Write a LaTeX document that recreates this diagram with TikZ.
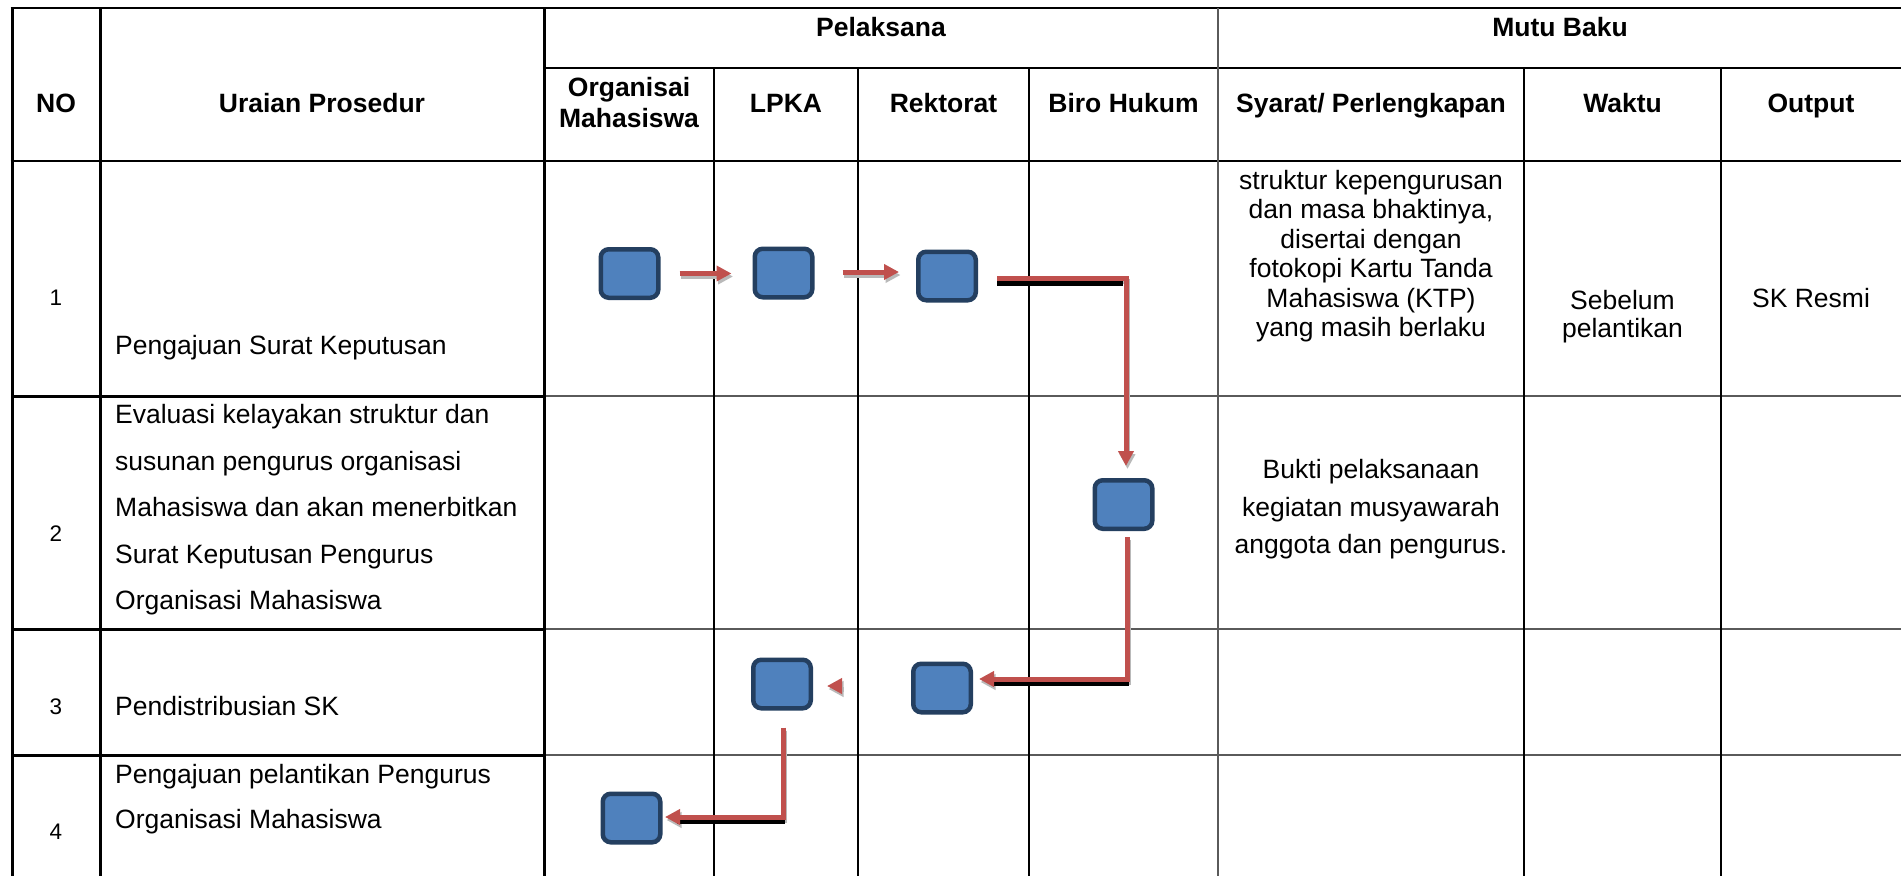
\documentclass[tikz,border=0pt]{standalone}
\usepackage{fontspec}
\setmainfont{Liberation Sans}
\usetikzlibrary{arrows.meta,calc}
\definecolor{boxfill}{HTML}{4F81BD}
\definecolor{boxline}{HTML}{243F60}
\definecolor{arrowred}{HTML}{C0504D}
\definecolor{gridgray}{HTML}{5A5A5A}
\begin{document}
\begin{tikzpicture}[x=1pt,y=-1pt,
  stepbox/.style={draw=boxline, fill=boxfill, line width=4.5pt, rounded corners=8pt,
    minimum width=57.5pt, minimum height=48.5pt, inner sep=0pt},
  hdr/.style={font=\fontsize{26.5}{30}\selectfont\bfseries, anchor=base, inner sep=0pt},
  txt/.style={font=\fontsize{26.5}{30}\selectfont, anchor=base, inner sep=0pt},
  txtl/.style={txt, anchor=base west},
  num/.style={font=\fontsize{22.5}{26}\selectfont, anchor=base, inner sep=0pt},
  thickline/.style={line width=3pt, black},
  medline/.style={line width=2pt, black},
  thinline/.style={line width=1.5pt, gridgray},
  flow/.style={arrowred, line width=5pt, -{Triangle[length=15pt,width=15pt]}},
  flowgrey/.style={gray!55, line width=5pt, -{Triangle[length=15pt,width=15pt]},
    transform canvas={xshift=1.5pt,yshift=-3pt}},
  flowblack/.style={black, line width=5pt},
]
\useasboundingbox (0,0) rectangle (1901,876);
\fill[white] (0,0) rectangle (1901,876);

% grid
\draw[line width=2.5pt] (10.5,8) -- (1901,8);
\draw[line width=2.5pt] (544,68) -- (1901,68);
\draw[line width=2.5pt] (10.5,161) -- (1901,161);
\foreach \yy in {396,629,755} {
  \draw[thickline] (12,\yy) -- (544,\yy);
  \draw[thinline] (544,\yy) -- (1901,\yy);
}
\draw[thickline] (12,8) -- (12,876);
\draw[thickline] (100,8) -- (100,876);
\draw[thickline] (544,8) -- (544,876);
\draw[medline] (714,68) -- (714,876);
\draw[medline] (858,68) -- (858,876);
\draw[medline, line width=1.6pt] (1029,68) -- (1029,876);
\draw[line width=2pt, gridgray] (1218,8) -- (1218,876);
\draw[medline] (1524,68) -- (1524,876);
\draw[medline] (1721,68) -- (1721,876);

% headers
\node[hdr] (hPel) at (881,36) {Pelaksana};
\node[hdr] (hMutu) at (1560,36) {Mutu Baku};
\node[hdr] (hNo) at (56,112) {NO};
\node[hdr] (hUra) at (322,112) {Uraian Prosedur};
\node[hdr] (hOrg1) at (629,96) {Organisai};
\node[hdr] (hOrg2) at (629,127) {Mahasiswa};
\node[hdr] (hLpka) at (786,112) {LPKA};
\node[hdr] (hRek) at (943.5,112) {Rektorat};
\node[hdr] (hBiro) at (1123.5,112) {Biro Hukum};
\node[hdr] (hSya) at (1371,112) {Syarat/ Perlengkapan};
\node[hdr] (hWak) at (1622.5,112) {Waktu};
\node[hdr] (hOut) at (1811,112) {Output};

% numbers
\node[num] (n1) at (56,305) {1};
\node[num] (n2) at (56,541) {2};
\node[num] (n3) at (56,714) {3};
\node[num] (n4) at (56,839) {4};

% procedures
\node[txtl] (u1) at (115,354) {Pengajuan Surat Keputusan};
\node[txtl] (u2a) at (115,423) {Evaluasi kelayakan struktur dan};
\node[txtl] (u2b) at (115,470) {susunan pengurus organisasi};
\node[txtl] (u2c) at (115,516) {Mahasiswa dan akan menerbitkan};
\node[txtl] (u2d) at (115,563) {Surat Keputusan Pengurus};
\node[txtl] (u2e) at (115,609) {Organisasi Mahasiswa};
\node[txtl] (u3) at (115,715) {Pendistribusian SK};
\node[txtl] (u4a) at (115,783) {Pengajuan pelantikan Pengurus};
\node[txtl] (u4b) at (115,828) {Organisasi Mahasiswa};

% mutu baku
\node[txt] (s1a) at (1371,189) {struktur kepengurusan};
\node[txt] (s1b) at (1371,218.5) {dan masa bhaktinya,};
\node[txt] (s1c) at (1371,248) {disertai dengan};
\node[txt] (s1d) at (1371,277.5) {fotokopi Kartu Tanda};
\node[txt] (s1e) at (1371,307) {Mahasiswa (KTP)};
\node[txt] (s1f) at (1371,336.5) {yang masih berlaku};
\node[txt] (w1a) at (1622.5,309) {Sebelum};
\node[txt] (w1b) at (1622.5,337) {pelantikan};
\node[txt] (o1) at (1811,307) {SK Resmi};
\node[txt] (s2a) at (1371,478) {Bukti pelaksanaan};
\node[txt] (s2b) at (1371,516) {kegiatan musyawarah};
\node[txt] (s2c) at (1371,553) {anggota dan pengurus.};

% boxes
\node[stepbox] (b1) at (629.5,273.5) {};
\node[stepbox] (b2) at (783.5,273) {};
\node[stepbox] (b3) at (947,276) {};
\node[stepbox] (b4) at (1123.5,504.5) {};
\node[stepbox] (b5) at (942,688) {};
\node[stepbox] (b6) at (782,684) {};
\node[stepbox] (b7) at (631.5,818) {};

% connector coordinates
\coordinate (a1s) at ($(b1.east)+(19,0)$);
\coordinate (a1e) at ($(b1.east -| b2.west)+(-21,0)$);
\coordinate (a2s) at ($(b2.east)+(28,-1)$);
\coordinate (a2e) at ($(b2.east -| b3.west)+(-17,-1)$);
\coordinate (a3s) at ($(b3.east)+(19,2)$);
\coordinate (a3e) at ($(b4.north)+(2.5,-12)$);
\coordinate (a4s) at ($(b4.south)+(3.5,6)$);
\coordinate (a4e) at ($(b5.east)+(6,-9)$);
\coordinate (loneS) at ($(b6.east)+(29,2)$);
\coordinate (loneE) at ($(b6.east)+(14,2)$);
\coordinate (a6s) at ($(b6.south)+(1,17)$);
\coordinate (a6e) at ($(b7.east)+(2.5,-1)$);

% shadows
\draw[flowgrey] (a1s) -- (a1e);
\draw[flowgrey] (a2s) -- (a2e);
\draw[flowgrey] (a3s) -| (a3e);
\draw[flowgrey] (a4s) |- (a4e);
\draw[flowgrey] (loneS) -- (loneE);
\draw[flowgrey] (a6s) |- (a6e);
\draw[flowblack] ($(a3s)+(0,5)$) -- ($(a3s -| a3e)+(-3,5)$);
\draw[flowblack] ($(a4e)+(14,4)$) -- ($(a4e -| a4s)+(2,4)$);
\draw[flowblack] ($(a6e)+(12,4)$) -- ($(a6e -| a6s)+(2,4)$);

% red flows
\draw[flow] (a1s) -- (a1e);
\draw[flow] (a2s) -- (a2e);
\draw[flow] (a3s) -| (a3e);
\draw[flow] (a4s) |- (a4e);
\draw[flow] (loneS) -- (loneE);
\draw[flow] (a6s) |- (a6e);
\end{tikzpicture}
\end{document}
